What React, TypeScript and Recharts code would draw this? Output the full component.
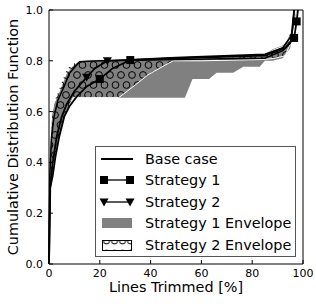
import { Area, ComposedChart, Line, XAxis, YAxis } from "recharts";

const X_TICKS = [0, 20, 40, 60, 80, 100];
const Y_TICKS = [0, 0.2, 0.4, 0.6, 0.8, 1.0];

// Strategy 1 envelope (grey band)
const ENV1_X = [0, 0.3, 1, 2, 3.5, 5, 7, 9.5, 12, 53.5, 56.5, 63, 66, 72.5, 76.5, 83, 85, 88, 92, 95, 96, 97.5];
const ENV1_LO = [0, 0.25, 0.33, 0.4, 0.48, 0.55, 0.6, 0.655, 0.655, 0.655, 0.728, 0.728, 0.753, 0.753, 0.777, 0.777, 0.8, 0.8, 0.81, 0.85, 0.92, 1.0];
const ENV1_HI = [0, 0.45, 0.58, 0.63, 0.66, 0.7, 0.75, 0.78, 0.8, 0.81, 0.81, 0.812, 0.813, 0.815, 0.817, 0.82, 0.825, 0.845, 0.86, 0.88, 0.95, 1.0];

// Strategy 2 envelope (hatched band)
const ENV2_X = [0, 0.3, 1, 2, 3.5, 5, 7, 9.5, 14, 27.5, 34, 39, 47, 49, 60, 84, 89, 93, 95.5, 97];
const ENV2_LO = [0, 0.25, 0.33, 0.4, 0.47, 0.54, 0.6, 0.655, 0.655, 0.655, 0.705, 0.745, 0.79, 0.8, 0.8, 0.805, 0.81, 0.82, 0.88, 1.0];
const ENV2_HI = [0, 0.45, 0.58, 0.64, 0.68, 0.72, 0.77, 0.79, 0.805, 0.805, 0.806, 0.807, 0.808, 0.808, 0.81, 0.82, 0.845, 0.86, 0.93, 1.0];

const BASE_X = [0, 0.3, 1, 2, 3.5, 6, 8, 12, 20, 50, 85, 92, 95, 96, 96.5];
const BASE_Y = [0, 0.35, 0.5, 0.58, 0.645, 0.7, 0.75, 0.796, 0.8, 0.805, 0.81, 0.84, 0.87, 0.93, 1.0];

const S1_X = [0, 0.5, 1.5, 2.5, 4, 6, 8, 11, 15, 20, 25, 32, 50, 85, 93, 96.5, 97.5, 98];
const S1_Y = [0, 0.3, 0.35, 0.42, 0.5, 0.58, 0.62, 0.66, 0.7, 0.728, 0.77, 0.803, 0.81, 0.82, 0.85, 0.89, 0.955, 1.0];
const S1_MARKS = [20, 32, 96.5, 97.5];

const S2_X = [0, 0.4, 1.5, 3, 5, 7, 10, 14.8, 18, 23, 50, 85, 92, 95.5, 96.5];
const S2_Y = [0, 0.3, 0.4, 0.5, 0.58, 0.63, 0.68, 0.735, 0.77, 0.8, 0.812, 0.825, 0.85, 0.9, 1.0];
const S2_MARKS = [14.8, 23];

const LEGEND = ["Base case", "Strategy 1", "Strategy 2", "Strategy 1 Envelope", "Strategy 2 Envelope"];

const toPoints = (xs: number[], ys: number[]) => xs.map((x, i) => ({ x, y: ys[i] }));
const toRange = (xs: number[], lo: number[], hi: number[]) =>
  xs.map((x, i) => ({ x, range: [lo[i], hi[i]] }));

const FONT = "DejaVu Sans";

function squareDot(marks: number[]) {
  return (p: any) => {
    if (!marks.includes(p.payload.x)) return <g key={p.key} />;
    return <rect key={p.key} x={p.cx - 4} y={p.cy - 4} width={8} height={8} fill="#000" />;
  };
}

function triangleDot(marks: number[]) {
  return (p: any) => {
    if (!marks.includes(p.payload.x)) return <g key={p.key} />;
    const { cx, cy } = p;
    return <path key={p.key} d={`M${cx - 4.5},${cy - 3.5}L${cx + 4.5},${cy - 3.5}L${cx},${cy + 4.5}Z`} fill="#000" />;
  };
}

function LegendIcon({ i }: { i: number }) {
  return (
    <svg width={36} height={14} style={{ display: "block" }}>
      {i === 0 && <line x1={2} x2={34} y1={7} y2={7} stroke="#000" strokeWidth={2} />}
      {i === 1 && (
        <g>
          <line x1={5} x2={31} y1={7} y2={7} stroke="#000" strokeWidth={1.3} />
          <rect x={1} y={3} width={8} height={8} fill="#000" />
          <rect x={27} y={3} width={8} height={8} fill="#000" />
        </g>
      )}
      {i === 2 && (
        <g>
          <line x1={5} x2={31} y1={7} y2={7} stroke="#000" strokeWidth={1.3} />
          <path d="M0.5,3.5L9.5,3.5L5,11.5Z" fill="#000" />
          <path d="M26.5,3.5L35.5,3.5L31,11.5Z" fill="#000" />
        </g>
      )}
      {i === 3 && <rect x={3} y={2} width={30} height={10} fill="#808080" />}
      {i === 4 && (
        <g>
          <rect x={3.5} y={2.5} width={29} height={10} fill="url(#hatchLegend)" stroke="#000" />
        </g>
      )}
    </svg>
  );
}

const axisStroke = { stroke: "#000" };

export default function App() {
  return (
    <div style={{ position: "absolute", left: 0, top: 0, width: 316, height: 306, background: "#fff", fontFamily: FONT }}>
      <svg width={0} height={0} style={{ position: "absolute" }}>
        <defs>
          <pattern id="hatchLegend" patternUnits="userSpaceOnUse" width={8} height={12} x={3.5} y={-1}>
            <circle cx={4} cy={4} r={3} fill="none" stroke="#000" strokeWidth={1} />
          </pattern>
        </defs>
      </svg>
      <ComposedChart width={316} height={306} margin={{ top: 9, right: 12, bottom: 41, left: 48 }}>
        <defs>
          <pattern id="hatchO" patternUnits="userSpaceOnUse" width={11} height={20}>
            <circle cx={5.5} cy={5} r={3.4} fill="none" stroke="#000" strokeWidth={1} />
            <circle cx={0} cy={15} r={3.4} fill="none" stroke="#000" strokeWidth={1} />
            <circle cx={11} cy={15} r={3.4} fill="none" stroke="#000" strokeWidth={1} />
          </pattern>
        </defs>
        <XAxis
          xAxisId="b"
          type="number"
          dataKey="x"
          domain={[0, 100]}
          ticks={X_TICKS}
          height={1}
          tickSize={-4}
          tickMargin={9}
          axisLine={axisStroke}
          tickLine={axisStroke}
          tick={{ fill: "#000", fontSize: 11, fontFamily: FONT }}
        />
        <XAxis
          xAxisId="t"
          orientation="top"
          type="number"
          dataKey="x"
          domain={[0, 100]}
          ticks={X_TICKS}
          height={1}
          tickSize={-4}
          tick={false}
          axisLine={axisStroke}
          tickLine={axisStroke}
        />
        <YAxis
          yAxisId="l"
          type="number"
          domain={[0, 1]}
          ticks={Y_TICKS}
          width={1}
          tickSize={-4}
          tickMargin={10}
          tickFormatter={(v: number) => v.toFixed(1)}
          axisLine={axisStroke}
          tickLine={axisStroke}
          tick={{ fill: "#000", fontSize: 11, fontFamily: FONT }}
        />
        <YAxis
          yAxisId="r"
          orientation="right"
          type="number"
          domain={[0, 1]}
          ticks={Y_TICKS}
          width={1}
          tickSize={-4}
          tick={false}
          axisLine={axisStroke}
          tickLine={axisStroke}
        />
        <Area
          xAxisId="b"
          yAxisId="l"
          data={toRange(ENV1_X, ENV1_LO, ENV1_HI)}
          dataKey="range"
          type="linear"
          fill="#808080"
          fillOpacity={1}
          stroke="none"
          isAnimationActive={false}
        />
        <Area
          xAxisId="b"
          yAxisId="l"
          data={toRange(ENV2_X, ENV2_LO, ENV2_HI)}
          dataKey="range"
          type="linear"
          fill="url(#hatchO)"
          fillOpacity={1}
          stroke="#fff"
          strokeWidth={1}
          isAnimationActive={false}
        />
        <Line
          xAxisId="b"
          yAxisId="l"
          data={toPoints(BASE_X, BASE_Y)}
          dataKey="y"
          type="linear"
          stroke="#000"
          strokeWidth={1.5}
          dot={false}
          isAnimationActive={false}
        />
        <Line
          xAxisId="b"
          yAxisId="l"
          data={toPoints(S1_X, S1_Y)}
          dataKey="y"
          type="linear"
          stroke="#000"
          strokeWidth={1.8}
          dot={squareDot(S1_MARKS)}
          isAnimationActive={false}
        />
        <Line
          xAxisId="b"
          yAxisId="l"
          data={toPoints(S2_X, S2_Y)}
          dataKey="y"
          type="linear"
          stroke="#000"
          strokeWidth={1.8}
          dot={triangleDot(S2_MARKS)}
          isAnimationActive={false}
        />
      </ComposedChart>
      <div
        style={{
          position: "absolute",
          left: 95,
          top: 146,
          width: 199,
          height: 109,
          border: "1px solid #555",
          background: "#fff",
          boxSizing: "content-box",
        }}
      >
        {LEGEND.map((label, i) => (
          <div
            key={label}
            style={{ position: "absolute", left: 3, top: 1 + i * 21.5, height: 21, display: "flex", alignItems: "center" }}
          >
            <LegendIcon i={i} />
            <span style={{ marginLeft: 10, fontSize: 14.4, whiteSpace: "nowrap", color: "#000" }}>{label}</span>
          </div>
        ))}
      </div>
      <div
        style={{
          position: "absolute",
          left: 176,
          top: 279,
          transform: "translateX(-50%)",
          fontSize: 14.4,
          lineHeight: "16.8px",
          whiteSpace: "nowrap",
        }}
      >
        Lines Trimmed [%]
      </div>
      <div
        style={{
          position: "absolute",
          left: 13.3,
          top: 137,
          transform: "translate(-50%, -50%) rotate(-90deg)",
          fontSize: 14.4,
          lineHeight: "16.8px",
          whiteSpace: "nowrap",
        }}
      >
        Cumulative Distribution Function
      </div>
    </div>
  );
}
